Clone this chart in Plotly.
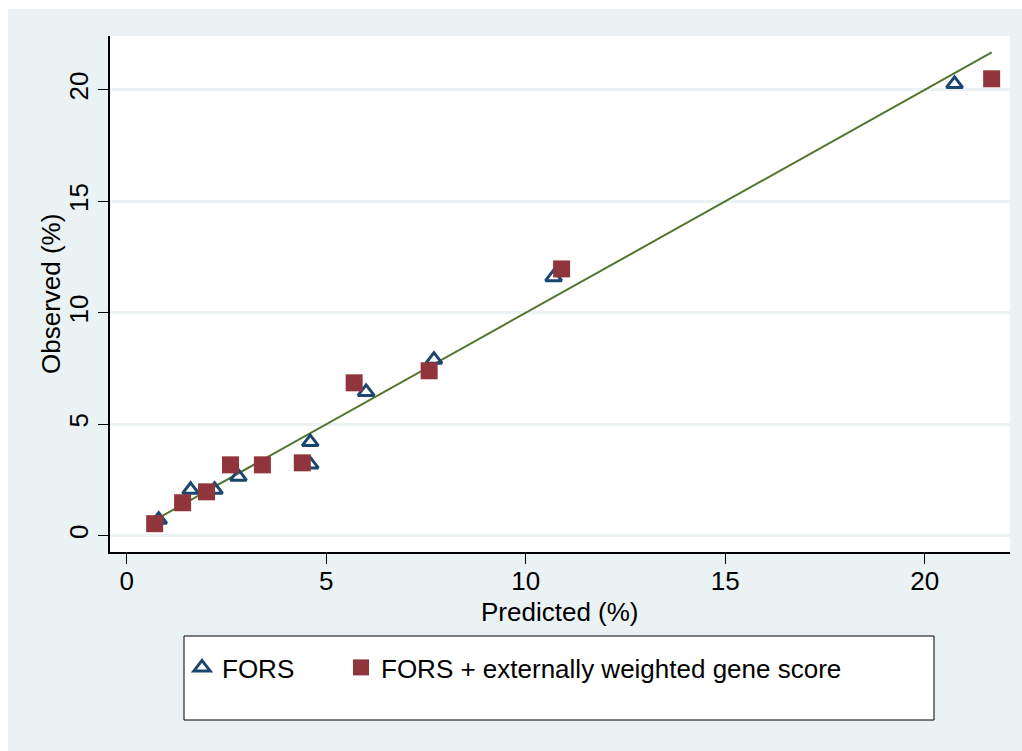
import plotly.graph_objects as go

# Data
fors_pred = [0.8, 1.6, 2.2, 2.8, 4.6, 4.6, 6.0, 7.7, 10.7, 20.75]
fors_obs = [0.72, 2.06, 2.06, 2.65, 4.2, 3.2, 6.45, 7.9, 11.6, 20.27]

gene_pred = [0.7, 1.4, 2.0, 2.6, 3.4, 4.4, 5.7, 7.58, 10.9, 21.68]
gene_obs = [0.54, 1.48, 1.97, 3.18, 3.18, 3.27, 6.86, 7.4, 11.97, 20.5]

x_ticks = [0, 5, 10, 15, 20]
y_ticks = [0, 5, 10, 15, 20]

x_title = "Predicted (%)"
y_title = "Observed (%)"

NAVY = "#1A476F"
MAROON = "#90353B"
GREEN = "#55752F"
BG = "#EAF2F3"
FONT = "Liberation Sans, Arial, sans-serif"
FS = 26

W, H = 1022, 751
L, R, T, B = 110, 12, 36, 199
PW, PH = W - L - R, H - T - B


def px(x):
    return (x - L) / PW


def py(y):
    return (H - B - y) / PH


all_pred = fors_pred + gene_pred
lo, hi = min(all_pred), max(all_pred)

fig = go.Figure()
fig.add_trace(go.Scatter(
    x=[lo, hi], y=[lo, hi], mode="lines",
    line=dict(color=GREEN, width=2), showlegend=False, hoverinfo="skip"))
fig.add_trace(go.Scatter(
    x=fors_pred, y=fors_obs, mode="markers", name="FORS", legend="legend",
    marker=dict(symbol="triangle-up-open", size=14, color=NAVY,
                line=dict(color=NAVY, width=3))))
fig.add_trace(go.Scatter(
    x=gene_pred, y=gene_obs, mode="markers", legend="legend2",
    name="FORS + externally weighted gene score",
    marker=dict(symbol="square", size=17, color=MAROON,
                line=dict(width=0))))

shapes = [
    dict(type="rect", xref="paper", yref="paper", layer="below",
         x0=px(8), x1=px(W + 5), y0=py(H + 5), y1=py(9),
         fillcolor=BG, line=dict(width=0)),
    dict(type="rect", xref="paper", yref="paper", layer="below",
         x0=0, x1=1, y0=0, y1=1, fillcolor="white", line=dict(width=0)),
    dict(type="rect", xref="paper", yref="paper", layer="below",
         x0=px(184), x1=px(934), y0=py(720), y1=py(636),
         fillcolor="white", line=dict(color="black", width=1)),
]

annotations = [
    dict(text=x_title, xref="paper", yref="paper", showarrow=False,
         x=px(560), y=py(612), xanchor="center", yanchor="middle",
         font=dict(family=FONT, size=FS, color="black")),
    dict(text=y_title, xref="paper", yref="paper", showarrow=False,
         x=px(51), y=py(294), xanchor="center", yanchor="middle",
         textangle=-90,
         font=dict(family=FONT, size=FS, color="black")),
]

leg_common = dict(orientation="h", xanchor="left", yanchor="top",
                  y=py(644), bgcolor="rgba(0,0,0,0)", borderwidth=0,
                  font=dict(family=FONT, size=FS, color="black"))

fig.update_layout(
    width=W, height=H,
    margin=dict(l=L, r=R, t=T, b=B),
    paper_bgcolor="white", plot_bgcolor="rgba(0,0,0,0)",
    font=dict(family=FONT, size=FS, color="black"),
    shapes=shapes,
    annotations=annotations,
    showlegend=True,
    legend=dict(x=px(182), **leg_common),
    legend2=dict(x=px(341), **leg_common),
    xaxis=dict(range=[-0.42, 22.14], tickvals=x_ticks,
               showgrid=False, zeroline=False,
               showline=True, linecolor="black", linewidth=1.5,
               ticks="outside", ticklen=10, tickwidth=1.2, tickcolor="black",
               ticklabelstandoff=-5,
               tickfont=dict(size=FS)),
    yaxis=dict(range=[-0.73, 22.42], tickvals=y_ticks,
               showgrid=True, gridcolor=BG, gridwidth=2.5, zeroline=False,
               showline=True, linecolor="black", linewidth=1.5,
               ticks="outside", ticklen=10, tickwidth=1.2, tickcolor="black",
               tickangle=-90, tickfont=dict(size=FS)),
)

fig.write_html("out.html")
